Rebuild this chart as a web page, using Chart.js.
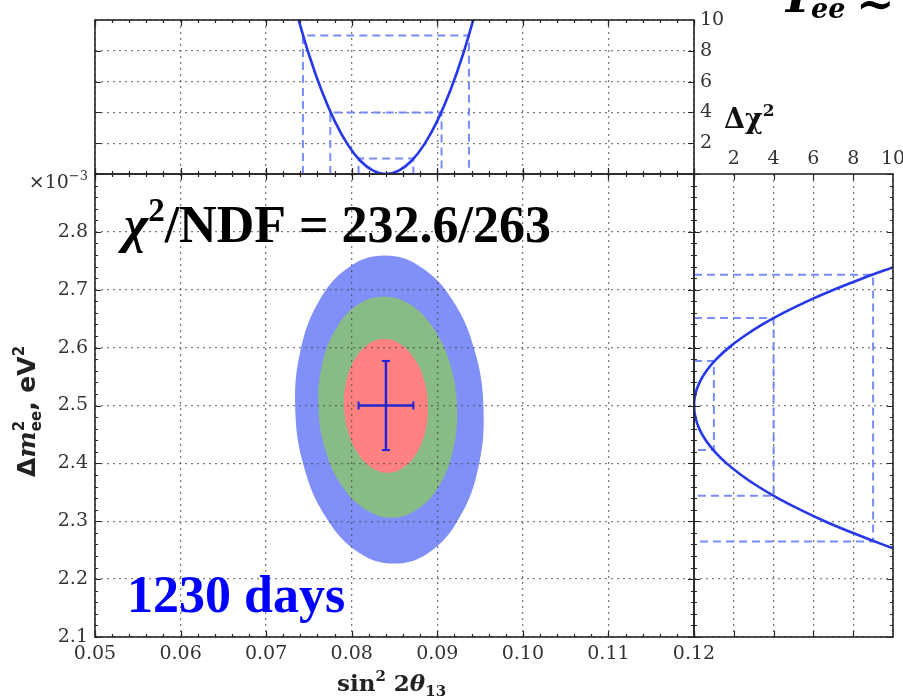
<!DOCTYPE html>
<html>
<head>
<meta charset="utf-8">
<script src="https://cdn.jsdelivr.net/npm/chart.js@4.4.1/dist/chart.umd.min.js"></script>
<style>
  html, body { margin: 0; padding: 0; background: #fff; }
  #wrap { position: relative; width: 903px; height: 699px; overflow: hidden; background: #fff; }
  #wrap canvas { position: absolute; left: 0; top: 0; }
</style>
</head>
<body>
<div id="wrap">
  <canvas id="cMain" width="903" height="699"></canvas>
  <canvas id="cTop" width="903" height="699"></canvas>
  <canvas id="cSide" width="903" height="699"></canvas>
</div>
<script>
// ---- axis ticks ----
const sin2Ticks  = [0.05, 0.06, 0.07, 0.08, 0.09, 0.10, 0.11, 0.12];
const dm2Ticks   = [2.1, 2.2, 2.3, 2.4, 2.5, 2.6, 2.7, 2.8];   // x 10^-3 eV^2
const dchi2Ticks = [2, 4, 6, 8, 10];

// ---- allowed regions (sin^2 2theta13, dm2_ee) ----
const outerSin2 = [0.0954, 0.09435, 0.09179, 0.0881, 0.08385, 0.07968, 0.07623, 0.07403, 0.0734, 0.07446, 0.07702, 0.08071, 0.08496, 0.08913, 0.09258, 0.09478];
const outerDm2  = [2.495, 2.596, 2.682, 2.739, 2.759, 2.739, 2.682, 2.596, 2.495, 2.392, 2.306, 2.247, 2.227, 2.247, 2.306, 2.392];
const midSin2   = [0.0923, 0.09151, 0.08961, 0.08688, 0.08374, 0.08068, 0.07815, 0.07655, 0.0761, 0.0769, 0.0788, 0.08153, 0.08466, 0.08773, 0.09026, 0.09186];
const midDm2    = [2.498, 2.571, 2.632, 2.674, 2.688, 2.674, 2.632, 2.571, 2.498, 2.4245, 2.362, 2.321, 2.306, 2.321, 2.362, 2.4245];
const innerSin2 = [0.0889, 0.08846, 0.08732, 0.0857, 0.0838, 0.08194, 0.0804, 0.0794, 0.0791, 0.07955, 0.08068, 0.0823, 0.0842, 0.08606, 0.0876, 0.08861];
const innerDm2  = [2.500, 2.544, 2.581, 2.606, 2.615, 2.606, 2.581, 2.544, 2.500, 2.456, 2.418, 2.393, 2.384, 2.393, 2.418, 2.456];

// ---- best fit with 1 sigma ranges ----
const bestSin2 = 0.0840;
const bestDm2 = 2.500;
const errSin2 = [0.0808, 0.0872];
const errDm2 = [2.423, 2.577];

// ---- delta chi^2 profiles ----
const profSin2    = [0.0735, 0.0750, 0.0765, 0.0780, 0.0795, 0.0810, 0.0825, 0.0840, 0.0855, 0.0870, 0.0885, 0.0900, 0.0915, 0.0930, 0.0945];
const profSin2Chi = [10.57, 7.76, 5.39, 3.45, 1.94, 0.86, 0.22, 0, 0.22, 0.86, 1.94, 3.45, 5.39, 7.76, 10.57];
const profDm2     = [2.74, 2.72, 2.70, 2.68, 2.66, 2.64, 2.62, 2.60, 2.58, 2.56, 2.54, 2.52, 2.50, 2.48, 2.46, 2.44, 2.42, 2.40, 2.38, 2.36, 2.34, 2.32, 2.30, 2.28, 2.26, 2.24];
const profDm2Chi  = [10.10, 8.49, 7.02, 5.68, 4.49, 3.44, 2.53, 1.75, 1.12, 0.63, 0.28, 0.07, 0, 0.07, 0.26, 0.59, 1.05, 1.64, 2.37, 3.22, 4.21, 5.33, 6.57, 7.96, 9.47, 11.11];

// ---- confidence levels and their crossings ----
const chiLevels  = [1, 4, 9];
const levSin2Lo  = [0.0808, 0.0775, 0.0743];
const levSin2Hi  = [0.0872, 0.0905, 0.0937];
const levDm2Lo   = [2.423, 2.344, 2.265];
const levDm2Hi   = [2.577, 2.651, 2.726];

// ---- style ----
const W = 903, H = 699;
const PLOT = { left: 95, right: 694, top: 174, bottom: 637, topPanelTop: 20, sideRight: 893 };
const CURVE = '#2638e8';
const DASH = 'rgba(105,128,250,0.9)';
const GRID = 'rgba(70,70,70,0.7)';
const TICKFONT = { family: '"DejaVu Serif", serif', size: 19 };

function steps(from, to, step) {
  const n = Math.round((to - from) / step), out = [];
  for (let i = 0; i <= n; i++) out.push(+(from + i * step).toFixed(6));
  return out;
}
function zip(xs, ys) { return xs.map((x, i) => ({ x, y: ys[i] })); }
function closed(xs, ys) {
  const p = zip(xs, ys);
  return [p[p.length - 1], ...p, p[0], p[1]];
}
function setTicks(values) { return (s) => { s.ticks = values.map(v => ({ value: v })); }; }
function fixSize(prop, size) {
  return (s) => { s[prop] = size; s.paddingLeft = 0; s.paddingRight = 0; s.paddingTop = 0; s.paddingBottom = 0; };
}

// frame with inward tick marks on all four sides
const framePlugin = {
  id: 'frame',
  afterDraw(chart, args, o) {
    const { ctx, chartArea: a, scales } = chart;
    ctx.save();
    ctx.strokeStyle = '#262626';
    ctx.lineWidth = 1.2;
    const xt = (vals, len) => vals.forEach(v => {
      const p = Math.round(scales.x.getPixelForValue(v)) + 0.5;
      ctx.beginPath();
      ctx.moveTo(p, a.bottom); ctx.lineTo(p, a.bottom - len);
      ctx.moveTo(p, a.top); ctx.lineTo(p, a.top + len);
      ctx.stroke();
    });
    const yt = (vals, len) => vals.forEach(v => {
      const p = Math.round(scales.y.getPixelForValue(v)) + 0.5;
      ctx.beginPath();
      ctx.moveTo(a.left, p); ctx.lineTo(a.left + len, p);
      ctx.moveTo(a.right, p); ctx.lineTo(a.right - len, p);
      ctx.stroke();
    });
    xt(o.xMinor || [], 3); xt(o.xMajor || [], 6);
    yt(o.yMinor || [], 3); yt(o.yMajor || [], 6);
    ctx.lineWidth = 1.6;
    ctx.strokeRect(a.left, a.top, a.right - a.left, a.bottom - a.top);
    ctx.restore();
  }
};

function drawRuns(ctx, x, y, runs) {
  let cx = x;
  for (const r of runs) {
    ctx.font = r.font;
    ctx.fillText(r.t, cx, y + (r.dy || 0));
    if (!r.hold) cx += ctx.measureText(r.t).width;
  }
}

const mainText = {
  id: 'mainText',
  afterDraw(chart) {
    const ctx = chart.ctx;
    ctx.save();
    ctx.textAlign = 'left';
    ctx.textBaseline = 'alphabetic';
    ctx.fillStyle = '#000';
    drawRuns(ctx, 124, 242, [
      { t: 'χ', font: 'bold italic 52px "Liberation Serif"' },
      { t: '2', font: 'bold 33px "Liberation Serif"', dy: -21 },
      { t: '/NDF = 232.6/263', font: 'bold 52px "Liberation Serif"' }
    ]);
    ctx.fillStyle = '#0000ff';
    drawRuns(ctx, 127, 612, [{ t: '1230 days', font: 'bold 52px "Liberation Serif"' }]);

    // axis multiplier
    ctx.fillStyle = '#333';
    ctx.textAlign = 'right';
    ctx.font = '13px "DejaVu Serif"';
    const expW = ctx.measureText('−3').width;
    ctx.fillText('−3', 88, 180);
    ctx.font = '19px "DejaVu Serif"';
    ctx.fillText('×10', 88 - expW, 188);
    ctx.textAlign = 'left';

    // x axis title
    ctx.fillStyle = '#222';
    drawRuns(ctx, 337, 691, [
      { t: 'sin', font: 'bold 23px "DejaVu Serif"' },
      { t: '2', font: 'bold 15px "DejaVu Serif"', dy: -10 },
      { t: ' 2', font: 'bold 23px "DejaVu Serif"' },
      { t: 'θ', font: 'bold italic 23px "DejaVu Serif"' },
      { t: '13', font: 'bold 15px "DejaVu Serif"', dy: 5 }
    ]);

    // y axis title
    ctx.save();
    ctx.translate(35, 477);
    ctx.rotate(-Math.PI / 2);
    drawRuns(ctx, 0, 0, [
      { t: 'Δ', font: 'bold 25px "DejaVu Sans"' },
      { t: 'm', font: 'bold italic 25px "DejaVu Serif"' },
      { t: '2', font: 'bold 15px "DejaVu Sans"', dy: -11, hold: true },
      { t: 'ee', font: 'bold 15px "DejaVu Sans"', dy: 6 },
      { t: ', eV', font: 'bold 25px "DejaVu Sans"' },
      { t: '2', font: 'bold 15px "DejaVu Sans"', dy: -11 }
    ]);
    ctx.restore();

    // formula fragment at the top edge
    ctx.fillStyle = '#000';
    drawRuns(ctx, 786, 12, [{ t: 'P', font: 'bold italic 48px "DejaVu Serif"' }]);
    drawRuns(ctx, 811, 18, [{ t: 'ee', font: 'bold italic 27px "DejaVu Serif"' }]);
    drawRuns(ctx, 856, 15, [{ t: '≈', font: 'bold 46px "DejaVu Serif"' }]);
    ctx.restore();
  }
};

const sideText = {
  id: 'sideText',
  afterDraw(chart) {
    const ctx = chart.ctx;
    ctx.save();
    ctx.fillStyle = '#111';
    ctx.textBaseline = 'alphabetic';
    drawRuns(ctx, 724, 128, [
      { t: 'Δχ', font: 'bold 27px "DejaVu Serif"' },
      { t: '2', font: 'bold 17px "DejaVu Serif"', dy: -12 }
    ]);
    ctx.restore();
  }
};

const common = {
  responsive: false,
  animation: false,
  devicePixelRatio: 1,
  events: [],
};
const gridOpts = { color: GRID, lineWidth: 1.3, drawTicks: false };
const borderOpts = { display: false, dash: [2, 4] };

// ---- main panel: allowed regions ----
const regionDs = (xs, ys, color, order) => ({
  data: closed(xs, ys), showLine: true, fill: 'shape', backgroundColor: color,
  borderWidth: 0, borderColor: color, pointRadius: 0, tension: 0.4, order
});
new Chart(document.getElementById('cMain'), {
  type: 'scatter',
  data: {
    datasets: [
      regionDs(outerSin2, outerDm2, '#8190f8', 4),
      regionDs(midSin2, midDm2, '#87bc87', 3),
      regionDs(innerSin2, innerDm2, '#ff8283', 2),
      {
        data: [{ x: errSin2[0], y: bestDm2 }, { x: errSin2[1], y: bestDm2 }],
        showLine: true, borderColor: '#1a22e0', borderWidth: 2.4,
        pointStyle: 'line', pointRadius: 4, pointRotation: 90,
        pointBorderColor: '#1a22e0', pointBorderWidth: 2, order: 1
      },
      {
        data: [{ x: bestSin2, y: errDm2[0] }, { x: bestSin2, y: errDm2[1] }],
        showLine: true, borderColor: '#1a22e0', borderWidth: 2.4,
        pointStyle: 'line', pointRadius: 4, pointRotation: 0,
        pointBorderColor: '#1a22e0', pointBorderWidth: 2, order: 0
      }
    ]
  },
  options: {
    ...common,
    layout: { padding: { left: 0, top: PLOT.top, right: W - PLOT.right, bottom: 0 } },
    plugins: {
      legend: { display: false }, tooltip: { enabled: false },
      frame: { xMajor: sin2Ticks, xMinor: steps(0.05, 0.12, 0.002), yMajor: steps(2.1, 2.9, 0.1), yMinor: steps(2.1, 2.9, 0.02) }
    },
    scales: {
      x: {
        type: 'linear', min: 0.05, max: 0.12,
        afterBuildTicks: setTicks(sin2Ticks),
        afterFit: fixSize('height', H - PLOT.bottom),
        ticks: { font: TICKFONT, color: '#333', padding: 6, maxRotation: 0, autoSkip: false, callback: v => v.toFixed(2) },
        grid: { ...gridOpts, z: 1 }, border: borderOpts
      },
      y: {
        type: 'linear', min: 2.1, max: 2.9,
        afterBuildTicks: setTicks(dm2Ticks),
        afterFit: fixSize('width', PLOT.left),
        ticks: { font: TICKFONT, color: '#333', padding: 7, autoSkip: false, callback: v => v.toFixed(1) },
        grid: { ...gridOpts, z: 1 }, border: borderOpts
      }
    }
  },
  plugins: [framePlugin, mainText]
});

// ---- top panel: profile in sin^2 2theta13 ----
const topDashed = chiLevels.map((L, i) => ({
  data: [{ x: levSin2Lo[i], y: 0 }, { x: levSin2Lo[i], y: L }, { x: levSin2Hi[i], y: L }, { x: levSin2Hi[i], y: 0 }],
  showLine: true, borderColor: DASH, borderWidth: 2, borderDash: [8, 5], pointRadius: 0, tension: 0, order: 1
}));
new Chart(document.getElementById('cTop'), {
  type: 'scatter',
  data: {
    datasets: [
      { data: zip(profSin2, profSin2Chi), showLine: true, borderColor: CURVE, borderWidth: 2.6, pointRadius: 0, tension: 0.4, order: 0 },
      ...topDashed
    ]
  },
  options: {
    ...common,
    layout: { padding: { left: PLOT.left, top: PLOT.topPanelTop, right: 0, bottom: 0 } },
    plugins: {
      legend: { display: false }, tooltip: { enabled: false },
      frame: { xMajor: sin2Ticks, xMinor: steps(0.05, 0.12, 0.002), yMajor: [2, 4, 6, 8], yMinor: [] }
    },
    scales: {
      x: {
        type: 'linear', min: 0.05, max: 0.12,
        afterBuildTicks: setTicks(sin2Ticks),
        afterFit: fixSize('height', H - PLOT.top),
        ticks: { display: false },
        grid: gridOpts, border: borderOpts
      },
      y: {
        type: 'linear', min: 0, max: 10, position: 'right',
        afterBuildTicks: setTicks(dchi2Ticks),
        afterFit: fixSize('width', W - PLOT.right),
        ticks: { font: TICKFONT, color: '#333', padding: 6, autoSkip: false, callback: v => String(v) },
        grid: gridOpts, border: borderOpts
      }
    }
  },
  plugins: [framePlugin]
});

// ---- side panel: profile in dm2_ee ----
const sideDashed = chiLevels.map((L, i) => ({
  data: [{ x: 0, y: levDm2Hi[i] }, { x: L, y: levDm2Hi[i] }, { x: L, y: levDm2Lo[i] }, { x: 0, y: levDm2Lo[i] }],
  showLine: true, borderColor: DASH, borderWidth: 2, borderDash: [8, 5], pointRadius: 0, tension: 0, order: 1
}));
new Chart(document.getElementById('cSide'), {
  type: 'scatter',
  data: {
    datasets: [
      { data: zip(profDm2Chi, profDm2), showLine: true, borderColor: CURVE, borderWidth: 2.6, pointRadius: 0, tension: 0.4, order: 0 },
      ...sideDashed
    ]
  },
  options: {
    ...common,
    layout: { padding: { left: 0, top: 0, right: W - PLOT.sideRight, bottom: H - PLOT.bottom } },
    plugins: {
      legend: { display: false }, tooltip: { enabled: false },
      frame: { xMajor: [2, 4, 6, 8], xMinor: [], yMajor: steps(2.1, 2.9, 0.1), yMinor: steps(2.1, 2.9, 0.02) }
    },
    scales: {
      x: {
        type: 'linear', min: 0, max: 10, position: 'top',
        afterBuildTicks: setTicks(dchi2Ticks),
        afterFit: fixSize('height', PLOT.top),
        ticks: { font: TICKFONT, color: '#333', padding: 4, maxRotation: 0, autoSkip: false, callback: v => String(v) },
        grid: gridOpts, border: borderOpts
      },
      y: {
        type: 'linear', min: 2.1, max: 2.9,
        afterBuildTicks: setTicks(dm2Ticks),
        afterFit: fixSize('width', PLOT.right),
        ticks: { display: false },
        grid: gridOpts, border: borderOpts
      }
    }
  },
  plugins: [framePlugin, sideText]
});
</script>
</body>
</html>
